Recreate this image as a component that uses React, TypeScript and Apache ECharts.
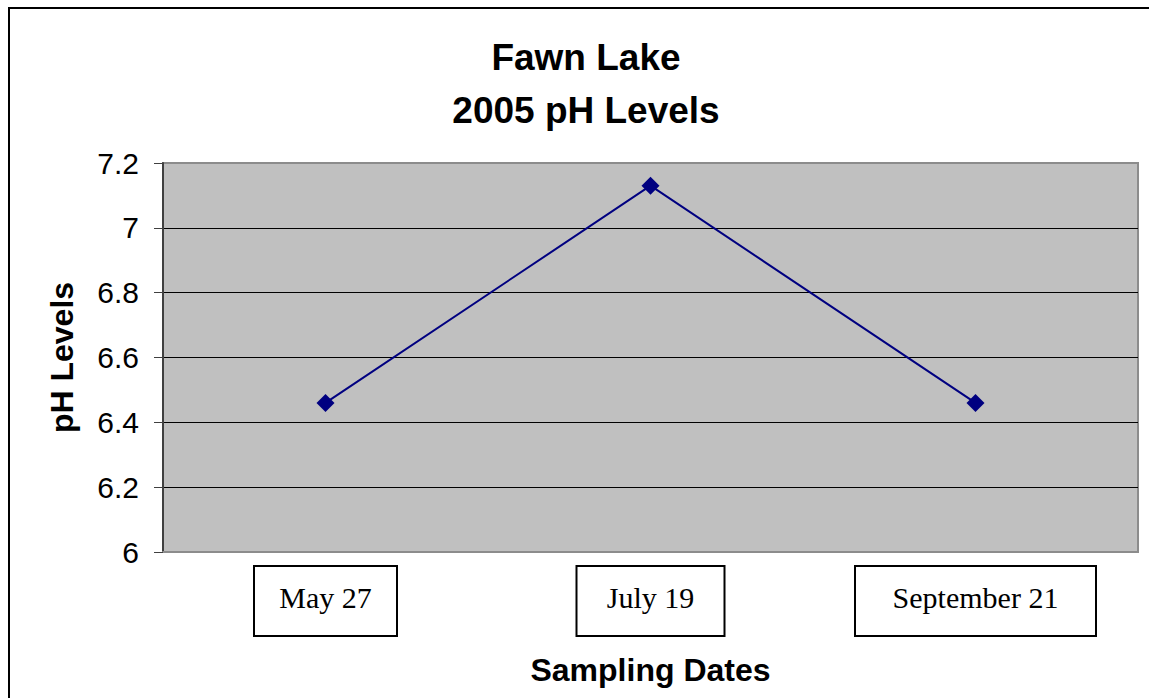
import React, { useEffect, useRef } from "react";
import * as echarts from "echarts";

const categories = ["May 27", "July 19", "September 21"];
const phValues = [6.46, 7.13, 6.46];
const yTicks = { min: 6, max: 7.2, interval: 0.2 };
const titleLines = ["Fawn Lake", "2005 pH Levels"];
const boxWidths = [141, 146, 239];

export default function App() {
  const ref = useRef<HTMLDivElement>(null);
  useEffect(() => {
    if (!ref.current) return;
    const chart = echarts.init(ref.current, undefined, { renderer: "svg" });
    const rich: Record<string, any> = {};
    categories.forEach((c, i) => {
      rich["b" + i] = {
        width: boxWidths[i],
        lineHeight: 32,
        padding: [15, 0, 23, 0],
        align: "center",
        fontFamily: "Liberation Serif",
        fontSize: 30,
        color: "#000",
        borderColor: "#000",
        borderWidth: 2,
        backgroundColor: "#fff",
      };
    });
    chart.setOption({
      animation: false,
      backgroundColor: "#fff",
      graphic: [
        {
          type: "rect",
          shape: { x: 9, y: 8, width: 1300, height: 900 },
          style: { fill: "none", stroke: "#000", lineWidth: 2 },
          silent: true,
        },
        {
          type: "text",
          x: 586,
          y: 31,
          style: {
            text: titleLines.join("\n"),
            font: "bold 37px 'Liberation Sans', Arial, sans-serif",
            fill: "#000",
            textAlign: "center",
            textVerticalAlign: "top",
            lineHeight: 53,
          },
        },
      ],
      grid: {
        left: 163,
        top: 163,
        right: 11,
        bottom: 146,
        outerBoundsMode: "none",
        containLabel: false,
        show: true,
        backgroundColor: "#c0c0c0",
        borderColor: "#8c8c8c",
        borderWidth: 2,
      },
      xAxis: {
        type: "category",
        data: categories,
        boundaryGap: true,
        axisLine: { show: true, lineStyle: { color: "#8c8c8c", width: 2 } },
        axisTick: { show: false },
        axisLabel: {
          margin: 33,
          interval: 0,
          formatter: (v: string) => {
            const i = categories.indexOf(v);
            return "{b" + i + "|" + v + "}";
          },
          rich,
        },
        name: "Sampling Dates",
        nameLocation: "middle",
        nameGap: 102,
        nameMoveOverlap: false,
        nameTextStyle: {
          fontFamily: "Liberation Sans",
          fontWeight: "bold",
          fontSize: 32,
          color: "#000",
        },
      },
      yAxis: {
        type: "value",
        min: yTicks.min,
        max: yTicks.max,
        interval: yTicks.interval,
        axisLine: { show: true, lineStyle: { color: "#404040", width: 2 } },
        axisTick: { show: true, length: 9, lineStyle: { color: "#404040", width: 1 } },
        axisLabel: {
          margin: 24,
          fontFamily: "Liberation Sans",
          fontSize: 30,
          color: "#000",
        },
        splitLine: {
          show: true,
          lineStyle: {
            color: ["#8c8c8c", "#000", "#000", "#000", "#000", "#000", "#8c8c8c"],
            width: 1,
          },
        },
        name: "pH Levels",
        nameLocation: "middle",
        nameGap: 85,
        nameRotate: 90,
        nameMoveOverlap: false,
        nameTextStyle: {
          fontFamily: "Liberation Sans",
          fontWeight: "bold",
          fontSize: 32,
          color: "#000",
        },
      },
      series: [
        {
          type: "line",
          data: phValues,
          symbol: "diamond",
          symbolSize: 18,
          lineStyle: { color: "#000080", width: 2 },
          itemStyle: { color: "#000080" },
        },
      ],
    });
    return () => chart.dispose();
  }, []);
  return (
    <div
      ref={ref}
      style={{ position: "fixed", left: 0, top: 0, width: 1149, height: 698 }}
    />
  );
}
